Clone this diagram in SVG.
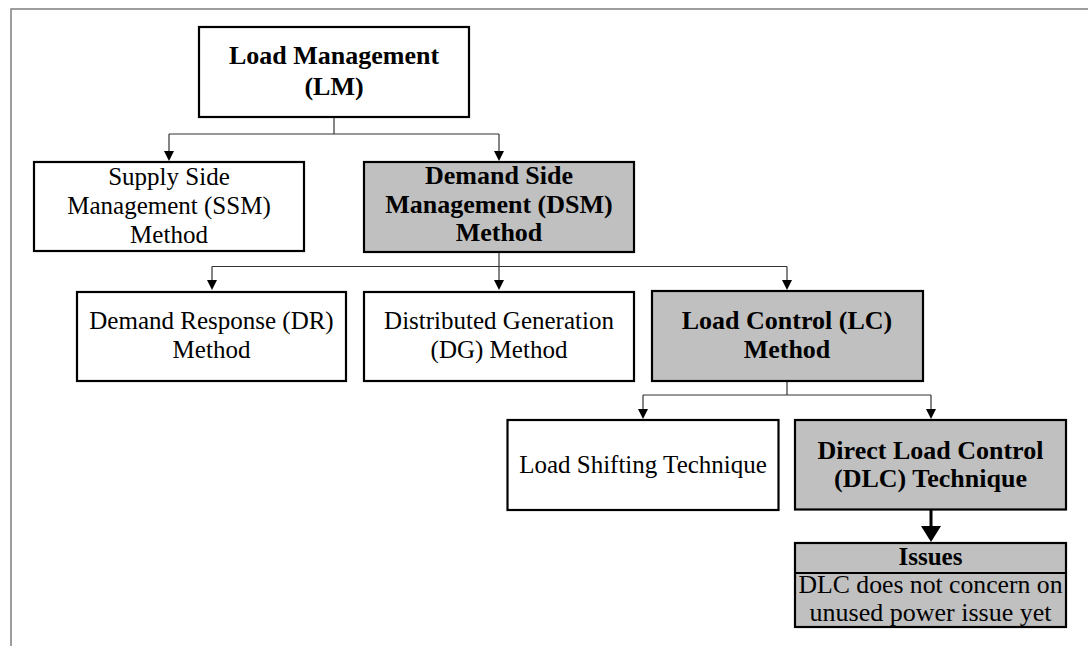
<svg xmlns="http://www.w3.org/2000/svg" width="1088" height="646" viewBox="0 0 1088 646">
<style>
.box{stroke:#000;stroke-width:2.2;fill:#fff}
.hl{fill:#c0c0c0}
.t{font-family:"Liberation Serif","Times New Roman",serif;font-size:25px;fill:#000;text-anchor:middle}
.b{font-weight:bold;font-size:26px}
.c{fill:none;stroke:#333;stroke-width:1.2}
.ct{fill:none;stroke:#000;stroke-width:3}
</style>
<defs>
<marker id="arr" markerUnits="userSpaceOnUse" markerWidth="11" markerHeight="11" viewBox="0 0 11 11" refX="0" refY="5.5" orient="auto">
<path d="M0,0.5 L10,5.5 L0,10.5 z" fill="#000"/>
</marker>
<marker id="arrB" markerUnits="userSpaceOnUse" markerWidth="17" markerHeight="20" viewBox="0 0 17 20" refX="0" refY="10" orient="auto">
<path d="M0,0 L16,10 L0,20 z" fill="#000"/>
</marker>
</defs>
<rect width="1088" height="646" fill="#fff"/>
<path d="M11,646 V9 H1088" fill="none" stroke="#7f7f7f" stroke-width="1.5"/>

<g id="connectors">
<path class="c" d="M334,117 V134"/>
<path class="c" d="M169,134 H499"/>
<path class="c" d="M169,134 V151" marker-end="url(#arr)"/>
<path class="c" d="M499,134 V151" marker-end="url(#arr)"/>
<path class="c" d="M499,252 V266.5"/>
<path class="c" d="M212,266.5 H787"/>
<path class="c" d="M212,266.5 V280" marker-end="url(#arr)"/>
<path class="c" d="M499,266.5 V280" marker-end="url(#arr)"/>
<path class="c" d="M787,266.5 V280" marker-end="url(#arr)"/>
<path class="c" d="M787,381 V395"/>
<path class="c" d="M643,395 H931"/>
<path class="c" d="M643,395 V409" marker-end="url(#arr)"/>
<path class="c" d="M931,395 V409" marker-end="url(#arr)"/>
<path class="ct" d="M931,510 V526" marker-end="url(#arrB)"/>
</g>

<g id="lm">
<rect class="box" x="199" y="27" width="270" height="90"/>
<text class="t b" x="334" y="64">Load Management</text>
<text class="t b" x="334" y="95">(LM)</text>
</g>

<g id="ssm">
<rect class="box" x="34" y="162" width="270" height="89"/>
<text class="t" x="169" y="185">Supply Side</text>
<text class="t" x="169" y="214">Management (SSM)</text>
<text class="t" x="169" y="242.5">Method</text>
</g>

<g id="dsm">
<rect class="box hl" x="364" y="162" width="270" height="90"/>
<text class="t b" x="499" y="184">Demand Side</text>
<text class="t b" x="499" y="212.5">Management (DSM)</text>
<text class="t b" x="499" y="241">Method</text>
</g>

<g id="dr">
<rect class="box" x="77" y="292" width="269" height="89"/>
<text class="t" x="211.5" y="328.5">Demand Response (DR)</text>
<text class="t" x="211.5" y="357.5">Method</text>
</g>

<g id="dg">
<rect class="box" x="364" y="292" width="270" height="89"/>
<text class="t" x="499" y="328.5">Distributed Generation</text>
<text class="t" x="499" y="357.5">(DG) Method</text>
</g>

<g id="lc">
<rect class="box hl" x="652" y="291" width="271" height="90"/>
<text class="t b" x="787" y="328.5">Load Control (LC)</text>
<text class="t b" x="787" y="358">Method</text>
</g>

<g id="ls">
<rect class="box" x="507.5" y="420" width="271" height="90"/>
<text class="t" x="643" y="473">Load Shifting Technique</text>
</g>

<g id="dlc">
<rect class="box hl" x="795" y="420" width="271" height="89.5"/>
<text class="t b" x="930.5" y="458.5">Direct Load Control</text>
<text class="t b" x="930.5" y="487">(DLC) Technique</text>
</g>

<g id="issues">
<rect class="box hl" x="795" y="543" width="271" height="84"/>
<line x1="795" y1="573" x2="1066" y2="573" stroke="#000" stroke-width="2"/>
<text class="t b" x="930.5" y="564.5" style="font-size:25px">Issues</text>
<text class="t" x="930.5" y="593" style="font-size:26px" textLength="264" lengthAdjust="spacingAndGlyphs">DLC does not concern on</text>
<text class="t" x="930.5" y="621" style="font-size:26px">unused power issue yet</text>
</g>
</svg>
